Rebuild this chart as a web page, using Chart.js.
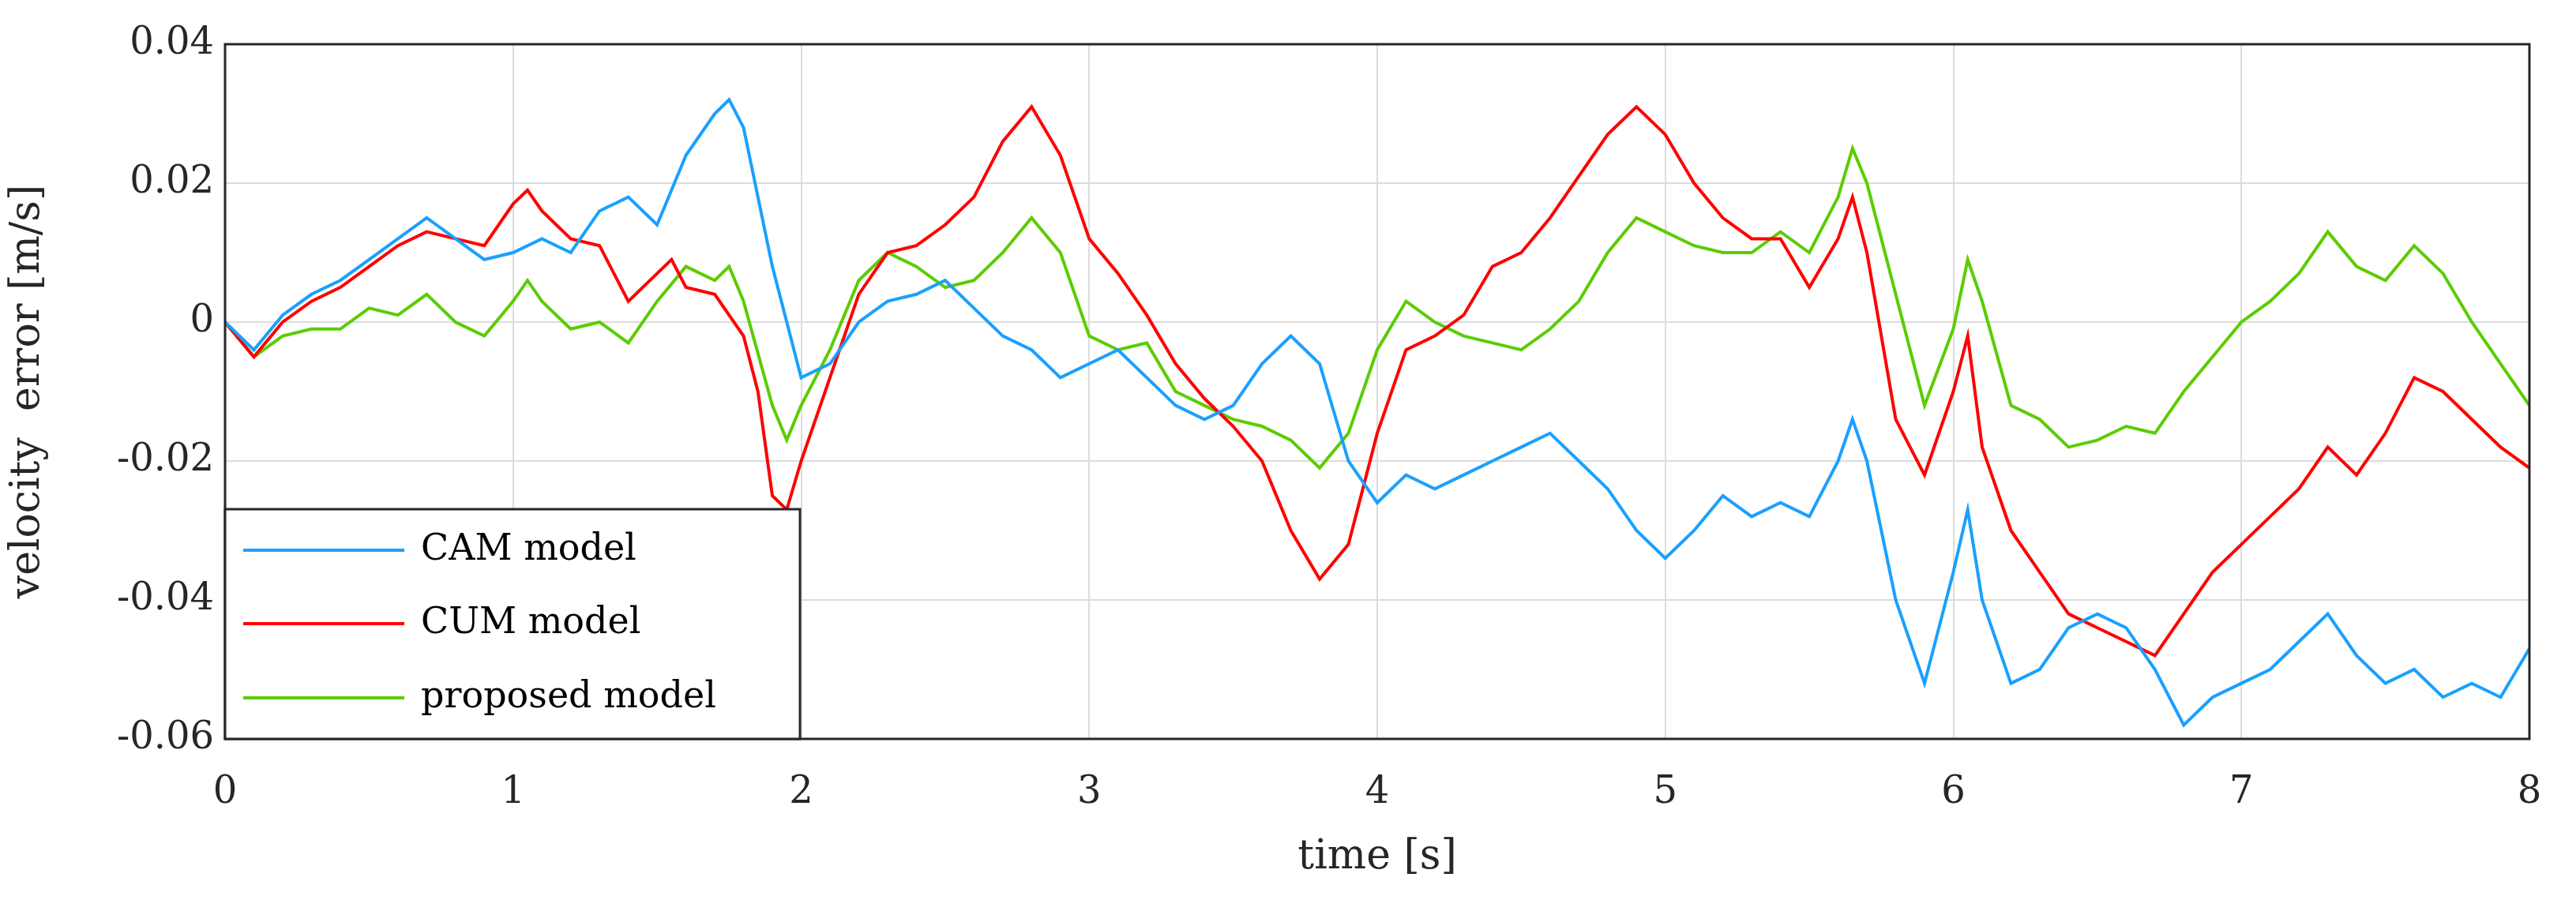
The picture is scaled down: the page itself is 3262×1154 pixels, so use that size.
<!DOCTYPE html>
<html><head><meta charset="utf-8">
<script src="https://cdn.jsdelivr.net/npm/chart.js@4"></script>
<style>html,body{margin:0;padding:0;background:#fff}#w{width:3262px;height:1154px}</style>
</head><body><div id="w"><canvas id="c"></canvas></div>
<script>
const seriesNames = ["CAM model", "CUM model", "proposed model"];
const xTickLabels = ["0","1","2","3","4","5","6","7","8"];
const yTickLabels = ["-0.06","-0.04","-0.02","0","0.02","0.04"];
const camT = [0,0.1,0.2,0.3,0.4,0.5,0.6,0.7,0.8,0.9,1.0,1.1,1.2,1.3,1.4,1.5,1.6,1.7,1.75,1.8,1.9,2.0,2.1,2.2,2.3,2.4,2.5,2.6,2.7,2.8,2.9,3.0,3.1,3.2,3.3,3.4,3.5,3.6,3.7,3.8,3.9,4.0,4.1,4.2,4.3,4.4,4.5,4.6,4.7,4.8,4.9,5.0,5.1,5.2,5.3,5.4,5.5,5.6,5.65,5.7,5.8,5.9,6.0,6.05,6.1,6.2,6.3,6.4,6.5,6.6,6.7,6.8,6.9,7.0,7.1,7.2,7.3,7.4,7.5,7.6,7.7,7.8,7.9,8.0];
const camV = [0,-0.004,0.001,0.004,0.006,0.009,0.012,0.015,0.012,0.009,0.010,0.012,0.010,0.016,0.018,0.014,0.024,0.030,0.032,0.028,0.008,-0.008,-0.006,0.000,0.003,0.004,0.006,0.002,-0.002,-0.004,-0.008,-0.006,-0.004,-0.008,-0.012,-0.014,-0.012,-0.006,-0.002,-0.006,-0.020,-0.026,-0.022,-0.024,-0.022,-0.020,-0.018,-0.016,-0.020,-0.024,-0.030,-0.034,-0.030,-0.025,-0.028,-0.026,-0.028,-0.020,-0.014,-0.020,-0.040,-0.052,-0.036,-0.027,-0.040,-0.052,-0.050,-0.044,-0.042,-0.044,-0.050,-0.058,-0.054,-0.052,-0.050,-0.046,-0.042,-0.048,-0.052,-0.050,-0.054,-0.052,-0.054,-0.047];
const cumT = [0,0.1,0.2,0.3,0.4,0.5,0.6,0.7,0.8,0.9,1.0,1.05,1.1,1.2,1.3,1.4,1.5,1.55,1.6,1.7,1.8,1.85,1.9,1.95,2.0,2.1,2.2,2.3,2.4,2.5,2.6,2.7,2.8,2.9,3.0,3.1,3.2,3.3,3.4,3.5,3.6,3.7,3.8,3.9,4.0,4.1,4.2,4.3,4.4,4.5,4.6,4.7,4.8,4.9,5.0,5.1,5.2,5.3,5.4,5.5,5.6,5.65,5.7,5.8,5.9,6.0,6.05,6.1,6.2,6.3,6.4,6.5,6.6,6.7,6.8,6.9,7.0,7.1,7.2,7.3,7.4,7.5,7.6,7.7,7.8,7.9,8.0];
const cumV = [0,-0.005,0.000,0.003,0.005,0.008,0.011,0.013,0.012,0.011,0.017,0.019,0.016,0.012,0.011,0.003,0.007,0.009,0.005,0.004,-0.002,-0.010,-0.025,-0.027,-0.020,-0.008,0.004,0.010,0.011,0.014,0.018,0.026,0.031,0.024,0.012,0.007,0.001,-0.006,-0.011,-0.015,-0.020,-0.030,-0.037,-0.032,-0.016,-0.004,-0.002,0.001,0.008,0.010,0.015,0.021,0.027,0.031,0.027,0.020,0.015,0.012,0.012,0.005,0.012,0.018,0.010,-0.014,-0.022,-0.010,-0.002,-0.018,-0.030,-0.036,-0.042,-0.044,-0.046,-0.048,-0.042,-0.036,-0.032,-0.028,-0.024,-0.018,-0.022,-0.016,-0.008,-0.010,-0.014,-0.018,-0.021];
const propT = [0,0.1,0.2,0.3,0.4,0.5,0.6,0.7,0.8,0.9,1.0,1.05,1.1,1.2,1.3,1.4,1.5,1.6,1.7,1.75,1.8,1.9,1.95,2.0,2.1,2.2,2.3,2.4,2.5,2.6,2.7,2.8,2.9,3.0,3.1,3.2,3.3,3.4,3.5,3.6,3.7,3.8,3.9,4.0,4.1,4.2,4.3,4.4,4.5,4.6,4.7,4.8,4.9,5.0,5.1,5.2,5.3,5.4,5.5,5.6,5.65,5.7,5.8,5.9,6.0,6.05,6.1,6.2,6.3,6.4,6.5,6.6,6.7,6.8,6.9,7.0,7.1,7.2,7.3,7.4,7.5,7.6,7.7,7.8,7.9,8.0];
const propV = [0,-0.005,-0.002,-0.001,-0.001,0.002,0.001,0.004,0.000,-0.002,0.003,0.006,0.003,-0.001,0.000,-0.003,0.003,0.008,0.006,0.008,0.003,-0.012,-0.017,-0.012,-0.004,0.006,0.010,0.008,0.005,0.006,0.010,0.015,0.010,-0.002,-0.004,-0.003,-0.010,-0.012,-0.014,-0.015,-0.017,-0.021,-0.016,-0.004,0.003,0.000,-0.002,-0.003,-0.004,-0.001,0.003,0.010,0.015,0.013,0.011,0.010,0.010,0.013,0.010,0.018,0.025,0.020,0.004,-0.012,-0.001,0.009,0.003,-0.012,-0.014,-0.018,-0.017,-0.015,-0.016,-0.010,-0.005,0.000,0.003,0.007,0.013,0.008,0.006,0.011,0.007,0.000,-0.006,-0.012];
const colors = ["#1aa0ff","#ff0000","#5ccc00"];
const pairs = (t,v)=>t.map((x,i)=>({x:x,y:v[i]}));
const FONT = "'DejaVu Serif','Liberation Serif',serif";

const frame = {
  id:'frame',
  afterDraw(ch){
    const c=ch.ctx, a=ch.chartArea;
    c.save();
    c.strokeStyle='#262626'; c.lineWidth=3;
    c.strokeRect(a.left,a.top,a.right-a.left,a.bottom-a.top);
    const lx=a.left, ly=645, lw=728, lh=a.bottom-645;
    c.fillStyle='#fff'; c.fillRect(lx,ly,lw,lh);
    c.strokeRect(lx,ly,lw,lh);
    c.font="46px "+FONT; c.textBaseline='middle'; c.fillStyle='#000';
    const rows=[697,790,884];
    seriesNames.forEach((n,i)=>{
      c.strokeStyle=colors[i]; c.lineWidth=4;
      c.beginPath(); c.moveTo(308,rows[i]); c.lineTo(512,rows[i]); c.stroke();
      c.fillText(n,533,rows[i]);
    });
    c.restore();
  }
};

new Chart(document.getElementById('c'),{
  type:'line',
  data:{datasets:[
    {label:seriesNames[0],data:pairs(camT,camV),borderColor:colors[0]},
    {label:seriesNames[1],data:pairs(cumT,cumV),borderColor:colors[1]},
    {label:seriesNames[2],data:pairs(propT,propV),borderColor:colors[2]}
  ].map(d=>Object.assign(d,{borderWidth:4,pointRadius:0,tension:0,fill:false}))},
  options:{
    responsive:true,maintainAspectRatio:false,animation:false,
    layout:{padding:{top:56,right:59,left:0,bottom:0}},
    plugins:{legend:{display:false},tooltip:{enabled:false}},
    scales:{
      x:{type:'linear',min:0,max:8,
        afterFit(s){s.height=218;},
        ticks:{stepSize:1,color:'#262626',font:{family:FONT,size:48},padding:40,
          callback:(v)=>xTickLabels[v]},
        grid:{color:'#dcdcdc',lineWidth:2,drawTicks:false},
        border:{display:false},
        title:{display:true,text:'time [s]',color:'#262626',font:{family:FONT,size:52},padding:{top:0,bottom:36}}
      },
      y:{min:-0.06,max:0.04,
        afterFit(s){s.width=285;},
        ticks:{stepSize:0.02,color:'#262626',font:{family:FONT,size:48},padding:14,
          callback:(v)=>{const i=Math.round((v+0.06)/0.02);return yTickLabels[i];}},
        grid:{color:'#dcdcdc',lineWidth:2,drawTicks:false},
        border:{display:false},
        title:{display:true,text:'velocity  error [m/s]',color:'#262626',font:{family:FONT,size:52},padding:{bottom:4}}
      }
    }
  },
  plugins:[frame]
});
</script></body></html>
